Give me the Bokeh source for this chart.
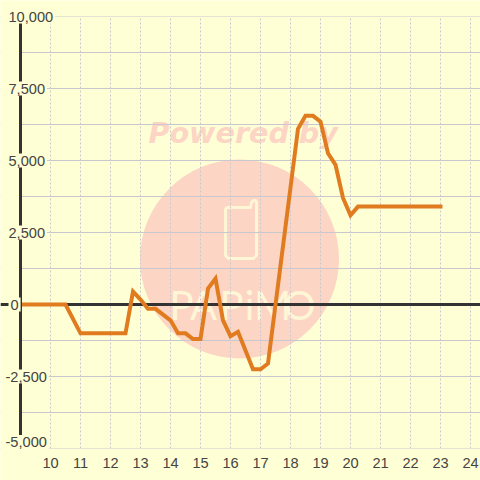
from bokeh.plotting import figure
from bokeh.models import Span, FixedTicker, Label, BoxAnnotation
from bokeh.core.properties import value
from bokeh.embed import file_html
from bokeh.resources import INLINE

hours = [9, 10.5, 11, 12.5, 12.75, 13, 13.25, 13.5, 14, 14.25, 14.5, 14.75, 15, 15.25, 15.5,
         15.75, 16, 16.25, 16.75, 17, 17.25, 18.25, 18.5, 18.75, 19, 19.25, 19.5, 19.75, 20, 20.25, 23]
profit = [0, 0, -1000, -1000, 450, 170, -150, -150, -550, -1000, -1000, -1200, -1200, 550, 900,
          -550, -1100, -950, -2250, -2250, -2050, 6100, 6550, 6550, 6350, 5250, 4850, 3700, 3100, 3400, 3400]
x_ticks = list(range(10, 25))
y_major = [10000, 7500, 5000, 2500, 0, -2500, -5000]
y_labels = ["10,000", "7,500", "5,000", "2,500", "0", "-2,500", "-5,000"]
y_grid = [-5000 + 1250 * i for i in range(13)]
label_left_px = [6, 6, 6, 6, 8, 3, 3]
label_center_px = [16, 88, 160, 232, 304, 376, 441.5]

BG = "#FFFFD5"
PINK = "#FCD5C5"
CREAM = "#FFF6D6"
GRID = "#C8C8CE"
DARK = "#333333"
TEXT = "#444444"

px_per_hour = 30.0
px_per_unit = 72.0 / 2500.0


def hx(px):
    return 10 + (px - 50.0) / px_per_hour


def vy(py):
    return (304.0 - py) / px_per_unit


p = figure(width=480, height=480, output_backend="svg", toolbar_location=None,
           x_range=(hx(0), hx(480)), y_range=(vy(480), vy(0)),
           min_border_left=0, min_border_right=0, min_border_top=0, min_border_bottom=0,
           background_fill_color=BG, border_fill_color=BG, outline_line_color=None)
p.styles = {"position": "absolute", "left": "0px", "top": "0px"}

# axes sit inside the frame so that their labels are not clipped
p.xaxis.fixed_location = -5000
p.xaxis.ticker = FixedTicker(ticks=x_ticks)
p.xaxis.axis_line_color = None
p.xaxis.major_tick_line_color = None
p.xaxis.minor_tick_line_color = None
p.xaxis.major_label_text_font = "Liberation Sans"
p.xaxis.major_label_text_font_size = "14.6px"
p.xaxis.major_label_text_color = TEXT
p.xaxis.major_label_standoff = 3

p.yaxis.fixed_location = 9
p.yaxis.bounds = (-5000, 10000)
p.yaxis.ticker = FixedTicker(ticks=y_major)
p.yaxis.major_label_overrides = {v: "" for v in y_major}
p.yaxis.major_tick_line_color = None
p.yaxis.minor_tick_line_color = None
p.yaxis.axis_line_color = DARK
p.yaxis.axis_line_width = 3
p.yaxis.major_label_standoff = 0

# grids
p.xgrid.ticker = FixedTicker(ticks=x_ticks)
p.xgrid.grid_line_color = GRID
p.xgrid.grid_line_width = 1
p.xgrid.grid_line_dash = "2 2"
p.ygrid.ticker = FixedTicker(ticks=y_grid)
p.ygrid.grid_line_color = GRID
p.ygrid.grid_line_width = 1

# masks that trim the grid lines to the plot area
p.add_layout(BoxAnnotation(right=hx(19), fill_color=BG, fill_alpha=1, line_color=None, level="underlay"))
p.add_layout(BoxAnnotation(bottom=vy(16), fill_color=BG, fill_alpha=1, line_color=None, level="underlay"))
p.add_layout(BoxAnnotation(top=vy(448), fill_color=BG, fill_alpha=1, line_color=None, level="underlay"))

# watermark
p.scatter([hx(239)], [vy(258.5)], size=199, marker="circle", fill_color=PINK, line_color=None, level="image")
p.add_layout(Label(x=hx(148), y=vy(149), text="Powered by", text_font="DejaVu Sans", text_font_style="bold italic",
                   text_font_size="28.6px", text_color=PINK, level="image"))
phone_x = [226, 250, 251, 253, 255, 256, 256, 253, 228, 225, 225, 226]
phone_y = [207, 207, 202, 200, 200, 202, 255, 258, 258, 255, 209, 207]
p.line([hx(v) for v in phone_x], [vy(v) for v in phone_y], line_color=CREAM, line_width=3, level="image", line_join="round")
logo_letters = ["P", "A", "P", "i", "M", "O"]
logo_px = [181, 203, 231, 249, 272, 299]
p.text([hx(v) for v in logo_px], [vy(304)] * 6, text=logo_letters, text_align="center", text_baseline="alphabetic",
       text_font=value("Lato"), text_font_size="40px", text_color=CREAM, level="image")

# zero line and series
p.add_layout(Span(location=0, dimension="width", line_color=DARK, line_width=3, level="underlay"))
p.line(hours, profit, line_color="#E07B20", line_width=4, line_join="miter", line_cap="square")

# y labels, on a filled box that interrupts the axis and grid
for left, center, text in zip(label_left_px, label_center_px, y_labels):
    p.add_layout(Label(x=hx(left), y=vy(center), text=text, text_font="Liberation Sans", text_font_size="14.6px",
                       text_color=TEXT, text_align="left", text_baseline="middle",
                       background_fill_color=BG, padding=2))

open("out.html", "w").write(file_html(p, INLINE))
